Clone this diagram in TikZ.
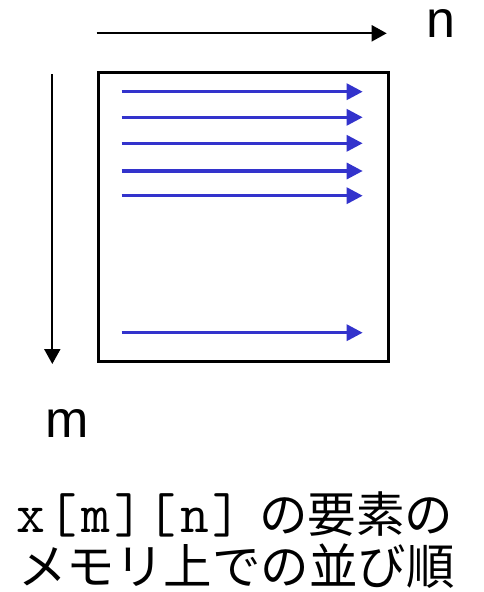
\documentclass[tikz,border=0pt]{standalone}
\usepackage{fontspec}
\setmainfont{Liberation Sans}
\newfontfamily\monofont[LetterSpace=7]{Latin Modern Mono}
\newfontfamily\cjk{Noto Sans CJK JP}
\usetikzlibrary{arrows.meta}
\definecolor{rowblue}{RGB}{51,51,204}
\begin{document}
\begin{tikzpicture}[x=1pt,y=-1pt,
  axis/.style={draw=black,line width=2.2pt,-{Triangle[length=15pt,width=16pt]}},
  rowarrow/.style={draw=rowblue,line width=3.2pt,-{Triangle[length=16pt,width=16pt]}},
  lbl/.style={inner sep=0pt,anchor=base west,text height=28pt,font=\fontsize{52}{56}\selectfont},
  captext/.style={inner sep=0pt,anchor=base west}]
\useasboundingbox (0,0) rectangle (483,592);
% matrix box
\node[draw=black,line width=3pt,minimum width=289.7pt,minimum height=289.6pt,inner sep=0pt,anchor=north west] (box) at (97,70.7) {};
% axes
\coordinate (nstart) at (96.7,33.3);
\coordinate (nend) at (386.7,33.3);
\draw[axis] (nstart) -- (nend);
\node[lbl] (nlab) at (426,37) {n};
\coordinate (mstart) at (52.3,74);
\coordinate (mend) at (52.3,364);
\draw[axis] (mstart) -- (mend);
\node[lbl] (mlab) at (45,437) {m};
% row arrows
\foreach \y [count=\i] in {91.7,117.3,143.3,171,195.7,332.7}{
  \coordinate (rs\i) at (121.7,\y);
  \coordinate (re\i) at (362.7,\y);
  \draw[rowarrow] (rs\i) -- (re\i);
}
% caption
\node[captext,font=\monofont\fontsize{56}{60}\selectfont] (cap1a) at (16,532) {x[m][n]};
\node[captext,font=\cjk\fontsize{48.5}{52}\selectfont] (cap1b) at (259,532) {の要素の};
\node[captext,font=\cjk\fontsize{48.5}{52}\selectfont] (cap2) at (18,584) {メモリ上での並び順};
\end{tikzpicture}
\end{document}
